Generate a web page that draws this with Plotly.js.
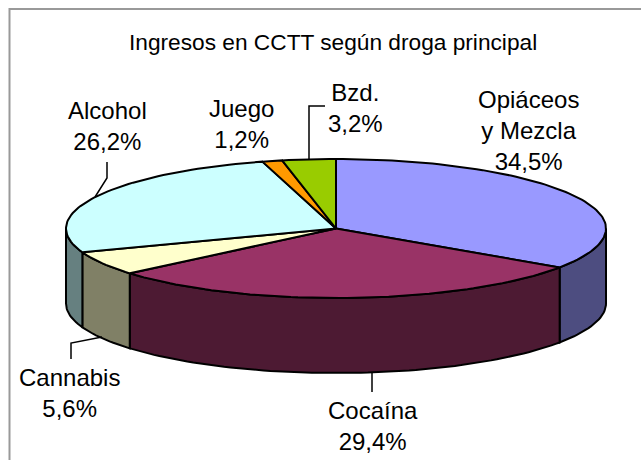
<!DOCTYPE html>
<html><head><meta charset="utf-8">
<script src="https://cdn.plot.ly/plotly-3.0.0.min.js"></script>
<style>html,body{margin:0;padding:0;background:#fff}#c{width:641px;height:460px}</style></head>
<body><div id="c"></div>
<script>
const categories = ["Opiáceos y Mezcla","Cocaína","Cannabis","Alcohol","Juego","Bzd."];
const values = [34.5,29.4,5.6,26.2,1.2,3.2];
const topColors = ["#9999FF","#993366","#FFFFCC","#CCFFFF","#FF9900","#99CC00"];
const wallColors = ["#4D4D80","#4D1A33","#808066","#668080","#804D00","#4D6600"];
const labels = ["Opiáceos<br>y Mezcla<br>34,5%","Cocaína<br>29,4%","Cannabis<br>5,6%","Alcohol<br>26,2%","Juego<br>1,2%","Bzd.<br>3,2%"];
const labelPos = [[528,130],[373,426],[69,393],[107,126],[241,124],[355,108]];
const leaders = [null,[[372,373],[372,392]],[[102,337],[71,343],[71,359]],[[95,197],[107,178],[107,162]],null,[[309,159],[309,106],[325,106]]];
const cx=336, cy=228.5, a=270, b=69.5, depth=75;
const total = values.reduce((s,v)=>s+v,0);
const pt=(deg,dy=0)=>{const r=deg*Math.PI/180;return [cx+a*Math.sin(r),cy-b*Math.cos(r)+dy];};
const arc=(s,e,dy=0)=>{const n=Math.max(2,Math.ceil(Math.abs(e-s)/1.5));const o=[];for(let i=0;i<=n;i++)o.push(pt(s+(e-s)*i/n,dy));return o;};
const traces=[];
const poly=(p,fill,w=2)=>traces.push({x:p.map(q=>q[0]),y:p.map(q=>q[1]),mode:'lines',type:'scatter',fill:'toself',fillcolor:fill,line:{color:'#000',width:w},hoverinfo:'skip',showlegend:false});
let ang=0;const spans=values.map(v=>{const s=ang;ang+=v/total*360;return [s,ang];});
spans.forEach(([s,e],i)=>{const s2=Math.max(s,90),e2=Math.min(e,270);if(e2<=s2)return;
  const t=arc(s2,e2),bt=arc(s2,e2,depth).reverse();poly([...t,...bt,t[0]],wallColors[i]);});
spans.forEach(([s,e],i)=>{poly([[cx,cy],...arc(s,e),[cx,cy]],topColors[i]);});
leaders.forEach(l=>{if(l)traces.push({x:l.map(q=>q[0]),y:l.map(q=>q[1]),mode:'lines',type:'scatter',line:{color:'#000',width:1.5},hoverinfo:'skip',showlegend:false});});
const annotations=labels.map((t,i)=>({x:labelPos[i][0],y:labelPos[i][1],xref:'x',yref:'y',text:t,showarrow:false,xanchor:'center',yanchor:'middle',font:{family:'Liberation Sans',size:24,color:'#000'}}));
annotations.push({x:333,y:42,xref:'x',yref:'y',text:'Ingresos en CCTT según droga principal',showarrow:false,xanchor:'center',yanchor:'middle',font:{family:'Liberation Sans',size:22.7,color:'#000'}});
Plotly.newPlot('c',traces,{width:641,height:460,margin:{l:0,r:0,t:0,b:0},paper_bgcolor:'#fff',plot_bgcolor:'#fff',
 xaxis:{range:[0,641],visible:false,fixedrange:true},yaxis:{range:[460,0],visible:false,fixedrange:true},
 annotations,
 shapes:[{type:'rect',xref:'x',yref:'y',x0:9.5,y0:9,x1:660,y1:480,line:{color:'#999',width:2},fillcolor:'rgba(0,0,0,0)',layer:'below'}],showlegend:false},{displayModeBar:false,staticPlot:true});
</script></body></html>
